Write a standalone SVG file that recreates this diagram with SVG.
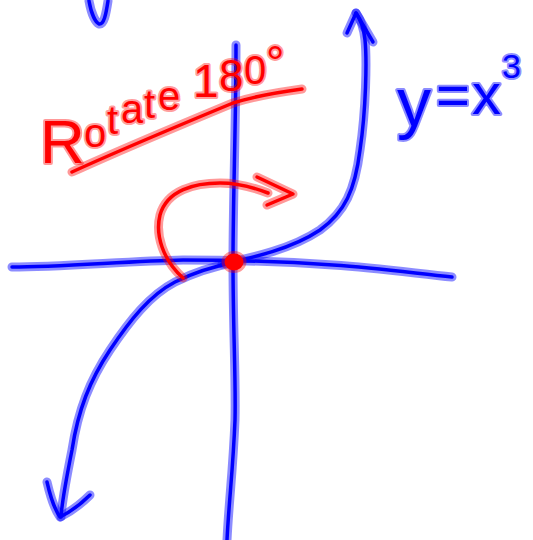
<svg xmlns="http://www.w3.org/2000/svg" width="533" height="540" viewBox="0 0 533 540">
<style>
.hb{fill:none;stroke:#0000ff;stroke-opacity:0.45;stroke-width:9;stroke-linecap:round;stroke-linejoin:round}
.cb{fill:none;stroke:#0000ff;stroke-width:3.5;stroke-linecap:round;stroke-linejoin:round}
.hr{fill:none;stroke:#ff0000;stroke-opacity:0.4;stroke-width:9;stroke-linecap:round;stroke-linejoin:round}
.cr{fill:none;stroke:#ff0000;stroke-width:3.5;stroke-linecap:round;stroke-linejoin:round}
.tb{font-family:"Liberation Sans",Arial,sans-serif;fill:#0000ff;stroke:#0000ff;stroke-opacity:0.45;stroke-width:4;stroke-linejoin:round;paint-order:stroke}
.tr{font-family:"Liberation Sans",Arial,sans-serif;fill:#ff0000;stroke:#ff0000;stroke-opacity:0.4;stroke-width:4;stroke-linejoin:round;paint-order:stroke}
</style>
<defs>
<path id="squig" d="M89,1 C91,12 95,22 99,24 C104,25 106,14 108,1"/>
<path id="vaxis" d="M236,45 C236,120 233,200 233,262 C233,330 236,380 235,420 C233,470 229,500 227,540"/>
<path id="haxis" d="M12,267 C60,267 130,261 183,260 C230,260 290,262 333,265 C380,268 420,274 452,277"/>
<path id="upper" d="M222,264 C250,258 290,250 320,230 C345,212 355,190 360,150 C366,110 367,60 365,40 C364,30 361,20 356,13"/>
<path id="upperArrow" d="M347,33 L356,13 L373,42"/>
<path id="lower" d="M236,262 C215,266 195,272 175,282 C150,295 130,320 110,350 C90,380 78,410 72,450 C66,480 62,500 61,517"/>
<path id="lowerArrow" d="M47,482 C50,495 55,510 60,517 C70,512 80,505 90,495"/>
<path id="rot" d="M183,278 C163,260 155,235 160,215 C167,190 195,183 220,183 C240,183 255,188 268,193"/>
<path id="rotHead" d="M257,177 L293,194 L267,205"/>
<path id="underline" d="M72,172 C120,150 180,125 233,103 C255,96 280,92 302,89"/>
</defs>

<g id="squiggle">
<use href="#squig" class="hb"/><use href="#squig" class="cb"/>
</g>

<g id="axes">
<use href="#vaxis" class="hb"/><use href="#vaxis" class="cb"/>
<use href="#haxis" class="hb"/><use href="#haxis" class="cb"/>
</g>

<g id="cubic-curve">
<use href="#upper" class="hb"/><use href="#upper" class="cb"/>
<use href="#upperArrow" class="hb"/><use href="#upperArrow" class="cb"/>
<use href="#lower" class="hb"/><use href="#lower" class="cb"/>
<use href="#lowerArrow" class="hb"/><use href="#lowerArrow" class="cb"/>
</g>

<g id="rotation-arrow">
<use href="#rot" class="hr"/><use href="#rot" class="cr"/>
<use href="#rotHead" class="hr"/><use href="#rotHead" class="cr"/>
</g>

<g id="origin">
<ellipse cx="234" cy="262" rx="12.5" ry="11" fill="#ff0000" fill-opacity="0.4"/>
<ellipse cx="234" cy="262" rx="9.5" ry="8.5" fill="#ff0000"/>
</g>

<g id="rotate-label">
<text class="tr"><tspan x="40" y="163" font-size="62">R</tspan><tspan x="84" y="147" font-size="40">o</tspan><tspan x="107" y="134" font-size="40">t</tspan><tspan x="121" y="123" font-size="40">a</tspan><tspan x="144" y="118" font-size="40">t</tspan><tspan x="158" y="110" font-size="40">e</tspan><tspan x="193" y="97" font-size="46">1</tspan><tspan x="219" y="91" font-size="44">8</tspan><tspan x="244" y="84" font-size="40">0</tspan><tspan x="266" y="79" font-size="46">°</tspan></text>
<use href="#underline" class="hr"/><use href="#underline" class="cr"/>
</g>

<g id="equation-label">
<text class="tb"><tspan x="397" y="126" font-size="68">y</tspan><tspan x="436" y="115" font-size="58">=</tspan><tspan x="472" y="114" font-size="58">x</tspan><tspan x="502" y="78" font-size="34">3</tspan></text>
</g>
</svg>
